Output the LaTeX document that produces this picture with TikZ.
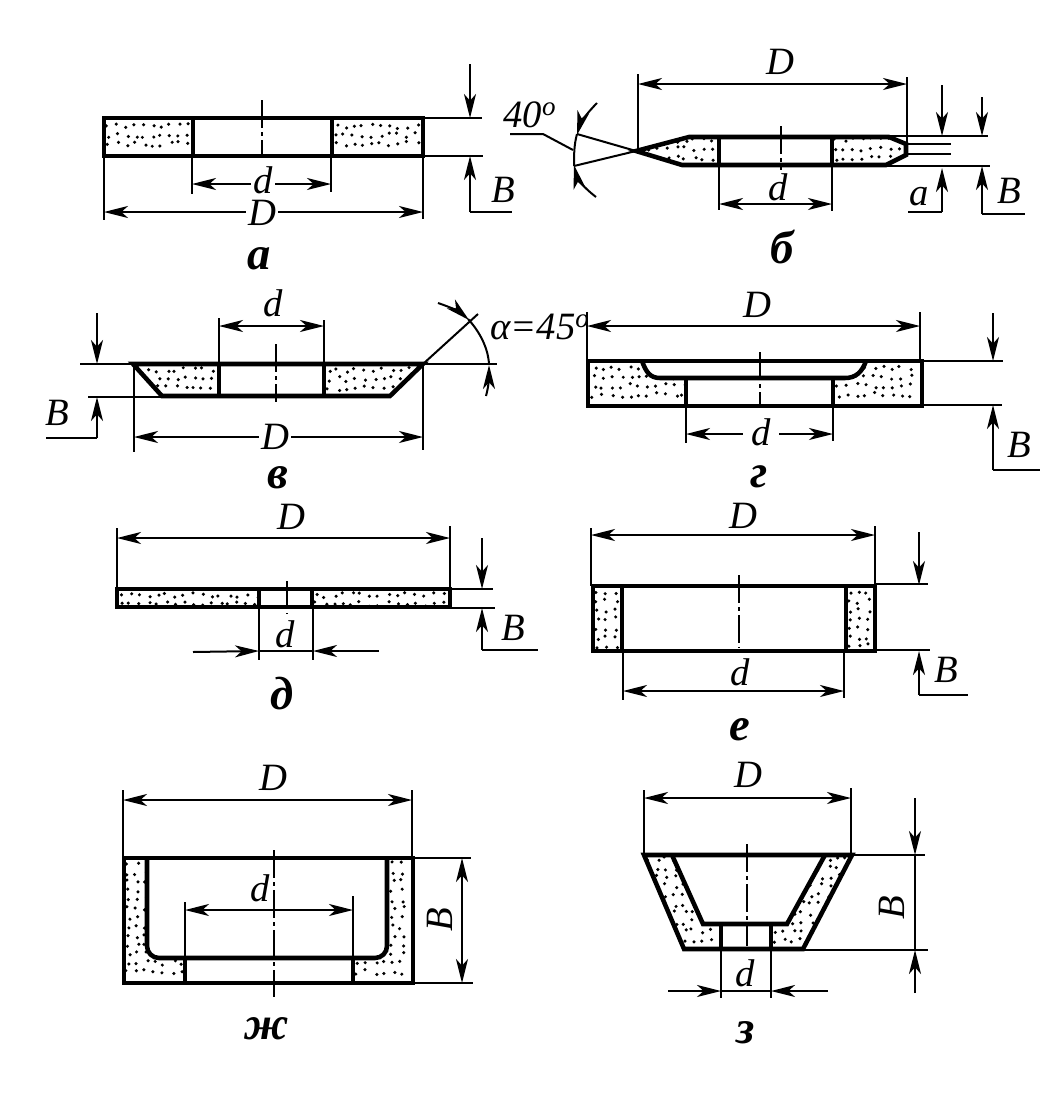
\documentclass[tikz,border=0pt]{standalone}
\usepackage{fontspec}
\setmainfont{Liberation Serif}
\usetikzlibrary{arrows.meta}
\tikzset{
  wheelLine/.style={
    line width=3.4pt,
    line join=miter
  },
  thinLine/.style={
    line width=1.5pt
  },
  centerLine/.style={
    line width=1.5pt,
    dash pattern=on 21pt off 3pt on 3pt off 3pt
  },
  dimArrow/.style={
    thinLine,
    -{Stealth[length=18pt,width=9pt,inset=5pt]}
  },
  dimBoth/.style={
    thinLine,
    {Stealth[length=18pt,width=9pt,inset=5pt]}-{Stealth[length=18pt,width=9pt,inset=5pt]}
  },
  dimText/.style={
    font=\fontsize{29}{30}\selectfont\itshape,
    inner sep=1.5pt
  },
  capText/.style={
    font=\fontsize{35}{36}\selectfont\bfseries\itshape,
    inner sep=0pt
  }
}
% dots of the abrasive layer: clip path, xmin, xmax, ymin, ymax
\newcommand{\grain}[5]{
  \begin{scope}
    \clip #1;
    \foreach \gx in {#2,\the\numexpr#2+9\relax,...,#3}
      \foreach \gy in {#4,\the\numexpr#4+9\relax,...,#5}
        \fill ({\gx+5*rnd-2.5},{\gy+5*rnd-2.5}) circle (1.3pt);
  \end{scope}
}
\begin{document}
\begin{tikzpicture}[x=0.75pt,y=-0.75pt]
  \pgfmathsetseed{7}
  \useasboundingbox (0,0) rectangle (1048,1100);

  % a
  \grain{(104,118) rectangle (193,156)}{108}{192}{126}{152}
  \grain{(332,118) rectangle (423,156)}{336}{420}{126}{152}
  \draw[wheelLine] (104,118) rectangle (423,156);
  \draw[wheelLine] (193,118) -- (193,156);
  \draw[wheelLine] (332,118) -- (332,156);
  \draw[centerLine] (262,100) -- (262,155);
  \draw[thinLine] (104,156) -- (104,220);
  \draw[thinLine] (423,156) -- (423,219);
  \draw[thinLine] (192,156) -- (192,194);
  \draw[thinLine] (331,156) -- (331,192);
  \draw[dimBoth] (192,184) -- (331,184);
  \draw[dimBoth] (104,212) -- (423,212);
  \draw[thinLine] (423,118) -- (482,118);
  \draw[thinLine] (423,156) -- (483,156);
  \draw[dimArrow] (470,64) -- (470,118);
  \draw[dimArrow] (470,212) -- (470,156);
  \draw[thinLine] (470,212) -- (512,212);
  \node[dimText,fill=white] (aSmall) at (263,180) {d};
  \node[dimText,fill=white] (aBig) at (262,213) {D};
  \node[dimText] (aWidth) at (503,190) {B};
  \node[capText] (aCap) at (259,259) {а};

  % b
  \grain{(636,151) -- (689,136) -- (719,136) -- (719,165) -- (682,165) -- cycle}{640}{718}{140}{162}
  \grain{(832,136) -- (889,136) -- (906,144) -- (906,155) -- (886,165) -- (832,165) -- cycle}{836}{904}{140}{162}
  \draw[wheelLine] (636,151) -- (689,137) -- (889,137) -- (906,144) -- (906,155) -- (886,165) -- (682,165) -- cycle;
  \draw[wheelLine] (719,137) -- (719,165);
  \draw[wheelLine] (832,137) -- (832,165);
  \draw[centerLine] (781,126) -- (781,170);
  \draw[thinLine] (638,74) -- (638,150);
  \draw[thinLine] (907,77) -- (907,144);
  \draw[dimBoth] (638,84) -- (907,84);
  \draw[thinLine] (719,165) -- (719,210);
  \draw[thinLine] (832,165) -- (832,211);
  \draw[dimBoth] (719,204) -- (832,204);
  \draw[thinLine] (889,136) -- (988,136);
  \draw[thinLine] (886,166) -- (990,166);
  \draw[thinLine] (906,144) -- (951,144);
  \draw[thinLine] (906,154) -- (951,154);
  \draw[dimArrow] (942,85) -- (942,136);
  \draw[dimArrow] (942,212) -- (942,168);
  \draw[thinLine] (942,212) -- (908,212);
  \draw[dimArrow] (982,97) -- (982,136);
  \draw[dimArrow] (982,214) -- (982,166);
  \draw[thinLine] (982,214) -- (1025,214);
  \draw[thinLine] (636,151) -- (577,134);
  \draw[thinLine] (636,151) -- (574,166);
  \draw[dimArrow] (597,103) .. controls (586,114) and (580,124) .. (577,135);
  \draw[thinLine] (577,134) .. controls (574,145) and (574,155) .. (574,166);
  \draw[dimArrow] (596,197) .. controls (584,188) and (577,178) .. (574,165);
  \draw[thinLine] (510,134) -- (543,134) -- (573,150);
  \node[dimText] (bBig) at (780,62) {D};
  \node[dimText] (bSmall) at (778,187) {d};
  \node[dimText] (bTip) at (919,197) {a};
  \node[dimText] (bWidth) at (1009,191) {B};
  \node[dimText] (bAngle) at (530,115) {40\textsuperscript{o}};
  \node[capText] (bCap) at (782,247) {б};

  % v
  \grain{(133,364) -- (423,364) -- (390,396) -- (162,396) -- cycle}{140}{416}{370}{392}
  \fill[white] (219,364) rectangle (324,396);
  \draw[wheelLine] (133,364) -- (423,364) -- (390,396) -- (162,396) -- cycle;
  \draw[wheelLine] (219,364) -- (219,396);
  \draw[wheelLine] (324,364) -- (324,396);
  \draw[thinLine] (80,364) -- (133,364);
  \draw[thinLine] (423,364) -- (497,364);
  \draw[thinLine] (88,397) -- (162,397);
  \draw[centerLine] (276,344) -- (276,402);
  \draw[thinLine] (219,318) -- (219,364);
  \draw[thinLine] (324,320) -- (324,364);
  \draw[dimBoth] (219,326) -- (324,326);
  \draw[thinLine] (134,364) -- (134,452);
  \draw[thinLine] (423,364) -- (423,450);
  \draw[dimBoth] (134,437) -- (423,437);
  \draw[dimArrow] (97,313) -- (97,364);
  \draw[dimArrow] (97,438) -- (97,397);
  \draw[thinLine] (97,438) -- (46,438);
  \draw[thinLine] (423,364) -- (478,314);
  \draw[dimArrow] (438,303) .. controls (450,307) and (460,312) .. (469,320);
  \draw[thinLine] (468,319) .. controls (480,332) and (488,348) .. (489,364);
  \draw[dimArrow] (486,396) .. controls (489,385) and (489,376) .. (489,365);
  \node[dimText] (vSmall) at (273,303) {d};
  \node[dimText,fill=white] (vBig) at (275,437) {D};
  \node[dimText] (vWidth) at (57,413) {B};
  \node[dimText,anchor=west,inner sep=0pt] (vAngle) at (490,327) {α=45\textsuperscript{o}};
  \node[capText] (vCap) at (278,478) {в};

  % g
  \grain{(588,361) -- (642,361) .. controls (646,372) and (650,378) .. (660,378) -- (686,378) -- (686,406) -- (588,406) -- cycle}{594}{684}{368}{402}
  \grain{(833,378) -- (845,378) .. controls (856,378) and (862,372) .. (866,361) -- (922,361) -- (922,406) -- (833,406) -- cycle}{838}{918}{368}{402}
  \draw[wheelLine] (588,361) rectangle (922,406);
  \draw[wheelLine] (642,361) .. controls (646,372) and (650,378) .. (660,378) -- (845,378) .. controls (856,378) and (862,372) .. (866,361);
  \draw[wheelLine] (686,378) -- (686,406);
  \draw[wheelLine] (833,378) -- (833,406);
  \draw[centerLine] (760,352) -- (760,405);
  \draw[thinLine] (587,312) -- (587,361);
  \draw[thinLine] (920,312) -- (920,361);
  \draw[dimBoth] (587,326) -- (920,326);
  \draw[thinLine] (686,406) -- (686,443);
  \draw[thinLine] (833,406) -- (833,441);
  \draw[dimBoth] (686,434) -- (833,434);
  \draw[thinLine] (922,361) -- (1003,361);
  \draw[thinLine] (922,405) -- (1002,405);
  \draw[dimArrow] (993,313) -- (993,361);
  \draw[dimArrow] (993,470) -- (993,405);
  \draw[thinLine] (993,470) -- (1040,470);
  \node[dimText] (gBig) at (757,305) {D};
  \node[dimText,fill=white,inner xsep=6pt] (gSmall) at (761,432) {d};
  \node[dimText] (gWidth) at (1019,445) {B};
  \node[capText] (gCap) at (759,477) {г};

  % d
  \grain{(117,589) rectangle (259,608)}{121}{258}{595}{604}
  \grain{(312,589) rectangle (450,608)}{316}{448}{595}{604}
  \draw[wheelLine] (117,589) rectangle (450,607);
  \draw[wheelLine] (259,589) -- (259,607);
  \draw[wheelLine] (312,589) -- (312,607);
  \draw[centerLine] (287,581) -- (287,614);
  \draw[thinLine] (117,528) -- (117,589);
  \draw[thinLine] (450,526) -- (450,589);
  \draw[dimBoth] (117,538) -- (450,538);
  \draw[thinLine] (259,607) -- (259,660);
  \draw[thinLine] (313,607) -- (313,660);
  \draw[dimArrow] (193,652) -- (259,651);
  \draw[dimArrow] (379,651) -- (313,651);
  \draw[thinLine] (259,651) -- (313,651);
  \draw[thinLine] (450,589) -- (493,589);
  \draw[thinLine] (450,608) -- (495,608);
  \draw[dimArrow] (482,538) -- (482,589);
  \draw[dimArrow] (482,650) -- (482,608);
  \draw[thinLine] (482,650) -- (538,650);
  \node[dimText] (dBig) at (291,517) {D};
  \node[dimText] (dSmall) at (285,634) {d};
  \node[dimText] (dWidth) at (513,628) {B};
  \node[capText] (dCap) at (282,694) {д};

  % e
  \grain{(593,586) rectangle (622,651)}{598}{620}{592}{648}
  \grain{(846,586) rectangle (875,651)}{850}{872}{592}{648}
  \draw[wheelLine] (593,586) rectangle (875,651);
  \draw[wheelLine] (622,586) -- (622,651);
  \draw[wheelLine] (846,586) -- (846,651);
  \draw[centerLine] (739,575) -- (739,648);
  \draw[thinLine] (591,528) -- (591,586);
  \draw[thinLine] (875,526) -- (875,586);
  \draw[dimBoth] (591,535) -- (875,535);
  \draw[thinLine] (623,651) -- (623,700);
  \draw[thinLine] (844,651) -- (844,698);
  \draw[dimBoth] (623,691) -- (844,691);
  \draw[thinLine] (875,584) -- (928,584);
  \draw[thinLine] (875,650) -- (930,650);
  \draw[dimArrow] (919,532) -- (919,585);
  \draw[dimArrow] (919,695) -- (919,651);
  \draw[thinLine] (919,695) -- (968,695);
  \node[dimText] (eBig) at (743,516) {D};
  \node[dimText] (eSmall) at (740,672) {d};
  \node[dimText] (eWidth) at (946,670) {B};
  \node[capText] (eCap) at (740,730) {е};

  % zh
  \grain{(124,858) -- (147,858) -- (147,948) -- (157,958) -- (185,958) -- (185,983) -- (124,983) -- cycle}{128}{184}{864}{980}
  \grain{(353,983) -- (353,958) -- (377,958) -- (387,948) -- (387,858) -- (413,858) -- (413,983) -- cycle}{357}{410}{864}{980}
  \draw[wheelLine] (124,858) rectangle (413,983);
  \draw[wheelLine,rounded corners=9pt] (147,858) -- (147,958) -- (387,958) -- (387,858);
  \draw[wheelLine] (185,958) -- (185,983);
  \draw[wheelLine] (353,958) -- (353,983);
  \draw[centerLine] (274,850) -- (274,997);
  \draw[thinLine] (123,790) -- (123,858);
  \draw[thinLine] (412,790) -- (412,858);
  \draw[dimBoth] (123,800) -- (412,800);
  \draw[thinLine] (185,902) -- (185,958);
  \draw[thinLine] (353,896) -- (353,958);
  \draw[dimBoth] (185,910) -- (353,910);
  \draw[thinLine] (413,858) -- (471,858);
  \draw[thinLine] (413,983) -- (473,983);
  \draw[dimBoth] (462,858) -- (462,983);
  \node[dimText] (zhBig) at (273,778) {D};
  \node[dimText] (zhSmall) at (260,888) {d};
  \node[dimText,rotate=90] (zhWidth) at (440,920) {B};
  \node[capText] (zhCap) at (267,1029) {ж};

  % z
  \grain{(644,855) -- (672,855) -- (703,924) -- (721,924) -- (721,949) -- (684,949) -- cycle}{648}{720}{859}{947}
  \grain{(771,924) -- (787,924) -- (825,855) -- (852,855) -- (803,949) -- (771,949) -- cycle}{775}{848}{859}{947}
  \draw[wheelLine] (644,855) -- (852,855) -- (803,949) -- (684,949) -- cycle;
  \draw[wheelLine] (672,855) -- (703,924) -- (787,924) -- (825,855);
  \draw[wheelLine] (721,924) -- (721,949);
  \draw[wheelLine] (771,924) -- (771,949);
  \draw[centerLine] (747,844) -- (747,946);
  \draw[thinLine] (644,790) -- (644,855);
  \draw[thinLine] (851,788) -- (851,855);
  \draw[dimBoth] (644,798) -- (851,798);
  \draw[thinLine] (721,949) -- (721,998);
  \draw[thinLine] (771,949) -- (771,998);
  \draw[dimArrow] (668,991) -- (721,991);
  \draw[dimArrow] (828,991) -- (771,991);
  \draw[thinLine] (721,991) -- (771,991);
  \draw[thinLine] (852,855) -- (925,855);
  \draw[thinLine] (803,950) -- (928,950);
  \draw[dimArrow] (915,798) -- (915,855);
  \draw[thinLine] (915,855) -- (915,950);
  \draw[dimArrow] (915,993) -- (915,950);
  \node[dimText] (zBig) at (748,775) {D};
  \node[dimText] (zSmall) at (745,973) {d};
  \node[dimText,rotate=90] (zWidth) at (892,908) {B};
  \node[capText] (zCap) at (746,1033) {з};
\end{tikzpicture}
\end{document}
